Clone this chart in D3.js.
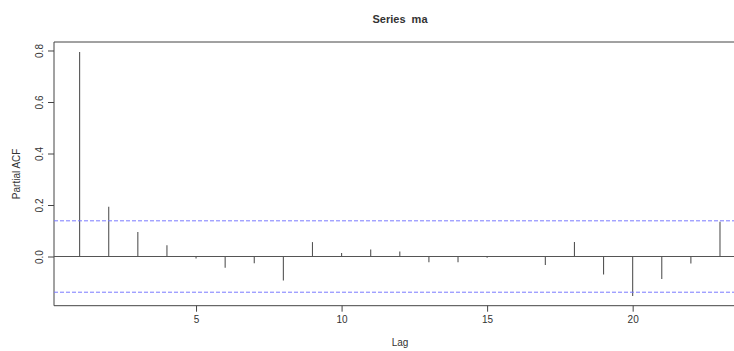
<!DOCTYPE html>
<html>
<head>
<meta charset="utf-8">
<script src="https://cdn.jsdelivr.net/npm/d3@7"></script>
<style>
  body { margin: 0; background: #fff; }
  text { font-family: "Liberation Sans", Arial, sans-serif; fill: #333; }
</style>
</head>
<body>
<div id="chart"></div>
<script>
// partial autocorrelation values
const lags = [1, 2, 3, 4, 5, 6, 7, 8, 9, 10, 11, 12, 13, 14, 15, 16, 17, 18, 19, 20, 21, 22, 23];
const pacf = [0.794, 0.193, 0.095, 0.044, -0.008, -0.044, -0.026, -0.093, 0.056, 0.014, 0.027, 0.019,
              -0.022, -0.022, -0.005, 0.001, -0.033, 0.056, -0.070, -0.153, -0.087, -0.027, 0.135];
const xTicks = [5, 10, 15, 20];
const yTicks = [0.0, 0.2, 0.4, 0.6, 0.8];
const clim = 0.1386; // 1.96 / sqrt(200)

const width = 734, height = 351;
// plot region (right edge runs past the window like in the original)
const plotLeft = 54, plotTop = 42, plotBottom = 305.7, plotRight = 745.6;

const x = d3.scaleLinear().domain([0.12, 23.88]).range([plotLeft, plotRight]);
const y = d3.scaleLinear().domain([-0.191, 0.833]).range([plotBottom, plotTop]);

const svg = d3.select("#chart").append("svg")
    .attr("width", width)
    .attr("height", height);

// box (left, top, bottom are visible)
svg.append("path")
    .attr("d", `M${plotRight},${plotTop}H${plotLeft}V${plotBottom}H${plotRight}`)
    .attr("fill", "none")
    .attr("stroke", "#444")
    .attr("stroke-width", 1);

// zero line
svg.append("line")
    .attr("x1", plotLeft).attr("x2", plotRight)
    .attr("y1", y(0)).attr("y2", y(0))
    .attr("stroke", "#555");

// spikes
svg.selectAll(".spike")
    .data(lags)
    .enter().append("line")
    .attr("class", "spike")
    .attr("x1", d => x(d)).attr("x2", d => x(d))
    .attr("y1", y(0))
    .attr("y2", (d, i) => y(pacf[i]))
    .attr("stroke", "#555")
    .attr("stroke-width", 1.1);

// confidence bounds
svg.selectAll(".clim")
    .data([clim, -clim])
    .enter().append("line")
    .attr("class", "clim")
    .attr("x1", plotLeft).attr("x2", plotRight)
    .attr("y1", d => y(d)).attr("y2", d => y(d))
    .attr("stroke", "#7a7aff")
    .attr("stroke-width", 1)
    .attr("stroke-dasharray", "4,2");

// x axis
const xAxis = svg.append("g")
    .attr("transform", `translate(0,${plotBottom})`)
    .call(d3.axisBottom(x).tickValues(xTicks).tickSize(6).tickPadding(4).tickFormat(d3.format("d")));
xAxis.select(".domain").remove();
xAxis.selectAll("line").attr("stroke", "#444");
xAxis.selectAll("text").attr("font-size", 10).attr("fill", "#333");

// y axis with rotated labels
const yAxis = svg.append("g")
    .attr("transform", `translate(${plotLeft},0)`)
    .call(d3.axisLeft(y).tickValues(yTicks).tickSize(6).tickFormat(d3.format(".1f")));
yAxis.select(".domain").remove();
yAxis.selectAll("line").attr("stroke", "#444");
yAxis.selectAll("text")
    .attr("font-size", 10)
    .attr("fill", "#333")
    .attr("text-anchor", "middle")
    .attr("x", 0).attr("dy", 0)
    .attr("transform", "translate(-11,0) rotate(-90)");

// title and axis labels
svg.append("text")
    .attr("x", 400).attr("y", 23)
    .attr("text-anchor", "middle")
    .attr("font-size", 11)
    .attr("font-weight", "bold")
    .attr("fill", "#111")
    .style("white-space", "pre")
    .text("Series  ma");

svg.append("text")
    .attr("x", 400).attr("y", 346)
    .attr("text-anchor", "middle")
    .attr("font-size", 10)
    .text("Lag");

svg.append("text")
    .attr("transform", `translate(20,${(plotTop + plotBottom) / 2}) rotate(-90)`)
    .attr("text-anchor", "middle")
    .attr("font-size", 10)
    .text("Partial ACF");
</script>
</body>
</html>
